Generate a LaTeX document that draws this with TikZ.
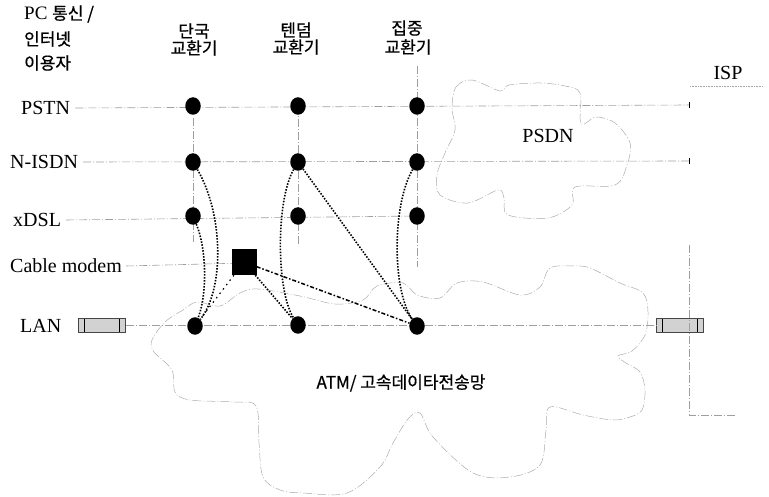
\documentclass[tikz,border=0pt]{standalone}
\usepackage{fontspec}
\setmainfont{Liberation Serif}
\newfontfamily\kr[FakeBold=0.7]{Noto Sans CJK KR}
\usetikzlibrary{shapes.geometric}
\begin{document}
\begin{tikzpicture}[x=1pt,y=-1pt,
  dotnode/.style={ellipse,fill=black,inner sep=0,minimum width=15.5pt,minimum height=17.5pt},
  sqnode/.style={rectangle,fill=black,inner sep=0,minimum width=25pt,minimum height=26pt},
  lbl/.style={font=\fontsize{20}{22}\selectfont,inner sep=0,anchor=west},
  krlbl/.style={font=\kr\fontsize{17}{19}\selectfont,inner sep=0},
  gridline/.style={gray!75,line width=0.6pt,dash pattern=on 8pt off 2pt on 1pt off 2pt},
  cloudline/.style={gray!65,line width=0.5pt,dash pattern=on 9pt off 2pt on 1pt off 2pt},
  conn/.style={black,line width=1.6pt,dash pattern=on 1.5pt off 1.5pt},
  connfaint/.style={black,line width=1.2pt,dash pattern=on 1.5pt off 4pt},
  conndd/.style={black,line width=1.5pt,dash pattern=on 4pt off 2pt on 1.5pt off 2pt},
  lanbox/.style={draw=gray!55!black,fill=gray!35,minimum width=47pt,minimum height=14pt,inner sep=0,line width=0.6pt,
    path picture={\draw[black,line width=0.6pt] ([xshift=6pt]path picture bounding box.south west) -- ([xshift=6pt]path picture bounding box.north west);
                  \draw[black,line width=0.6pt] ([xshift=-6pt]path picture bounding box.south east) -- ([xshift=-6pt]path picture bounding box.north east);}}
]
\useasboundingbox (0,0) rectangle (769,497);

% ---------- clouds ----------
\draw[cloudline] plot[smooth cycle, tension=0.55] coordinates {
  (452,108) (456,87) (472,80) (500,91) (509,85) (540,83) (565,86) (580,93) (581,124)
  (596,117) (615,123) (630,143) (627,165) (615,185) (575,187) (572,205) (548,218)
  (508,215) (504,198) (498,190) (468,203) (440,195) (437,175) (445,153) (455,130)};

\draw[cloudline] plot[smooth cycle, tension=0.55] coordinates {
  (152,340) (165,322) (183,310) (197,302) (220,306) (240,293) (258,289) (300,296) (335,304)
  (363,300) (377,286) (403,283) (417,295) (440,298) (457,283) (483,282) (520,295) (540,287)
  (550,268) (573,266) (590,268) (620,283) (643,293) (648,312) (645,335) (632,351) (618,356)
  (626,363) (640,372) (645,390) (642,410) (630,417) (613,420) (583,415) (550,407) (546,430)
  (540,465) (510,477) (473,473) (433,437) (420,413) (408,419) (393,443) (380,467) (347,493)
  (303,493) (280,490) (263,477) (259,443) (256,406) (233,402) (190,400) (175,392) (172,370) (154,352)};

% ---------- labels ----------
\node[anchor=west,inner sep=0] (pc) at (24,14) {\fontsize{19}{21}\selectfont PC\ \kr\fontsize{17}{19}\selectfont 통신 /};
\node[krlbl,anchor=west] (inet) at (24,39) {인터넷};
\node[krlbl,anchor=west] (user) at (24,63) {이용자};

\node[krlbl] (h1a) at (194,31) {단국};
\node[krlbl] (h1b) at (194,48) {교환기};
\node[krlbl] (h2a) at (296,30) {텐덤};
\node[krlbl] (h2b) at (296,47) {교환기};
\node[krlbl] (h3a) at (407,28) {집중};
\node[krlbl] (h3b) at (408,47) {교환기};

\node[lbl] (pstn) at (21,108) {PSTN};
\node[lbl] (isdn) at (10,162) {N-ISDN};
\node[lbl] (xdsl) at (13,220) {xDSL};
\node[lbl] (cable) at (10,266) {Cable modem};
\node[lbl] (lan) at (20,326) {LAN};

\node[font=\fontsize{20}{22}\selectfont,inner sep=0] (psdn) at (548,136) {PSDN};
\node[font=\fontsize{20}{22}\selectfont,inner sep=0] (isp) at (728,73) {ISP};
\node[krlbl] (atm) at (401,383) {ATM/ 고속데이타전송망};

% ---------- boxes ----------
\node[lanbox] (lanL) at (102,325) {};
\node[lanbox] (lanR) at (680,325) {};

% ---------- coordinates ----------
\coordinate (e1) at (689,105);
\coordinate (e2) at (689,161);
\coordinate (v1t) at (193,118);
\coordinate (v1b) at (193,242);
\coordinate (v2b) at (298,246);
\coordinate (v3t) at (417,66);
\coordinate (v3b) at (417,267);
\coordinate (r1) at (689,245);
\coordinate (r2) at (689,415);
\coordinate (r3) at (736,415);
\coordinate (i1) at (690,86);
\coordinate (i2) at (763,86);

% ---------- grid lines ----------
\draw[gridline] ([xshift=5pt]pstn.east) -- (e1);
\draw[gridline] ([xshift=5pt]isdn.east) -- (e2);
\draw[gridline] ([xshift=5pt]xdsl.east) -- (417,216);
\draw[gridline] ([xshift=4pt]cable.east) -- (244,263);
\draw[gridline] (lanL.east) -- (lanR.west);
\draw[gridline] (v1t) -- (v1b);
\draw[gridline] (298,106) -- (v2b);
\draw[gridline] (v3t) -- (v3b);
\draw[gridline] (r1) -- (r2) -- (r3);
\draw[gray!70,line width=0.6pt,densely dotted] (i1) -- (i2);
\draw[black,line width=0.6pt] (689,102) -- (689,108) (689,158) -- (689,164);

% ---------- switch nodes ----------
\node[dotnode] (a1) at (193,106) {};
\node[dotnode] (a2) at (193,162) {};
\node[dotnode] (a3) at (193,216) {};
\node[dotnode] (a4) at (195,326) {};
\node[dotnode] (b1) at (298,106) {};
\node[dotnode] (b2) at (298,162) {};
\node[dotnode] (b3) at (298,216) {};
\node[dotnode] (b4) at (298,325) {};
\node[dotnode] (c1) at (417,106) {};
\node[dotnode] (c2) at (417,162) {};
\node[dotnode] (c3) at (417,216) {};
\node[dotnode] (c4) at (417,326) {};
\node[sqnode] (cm) at (244,262) {};

% ---------- connectors ----------
\draw[conn] (a2) .. controls (224,215) and (224,290) .. (a4);
\draw[conn] (a3) .. controls (207,250) and (207,295) .. (a4);
\draw[conn] (b2) .. controls (276,200) and (276,290) .. (b4);
\draw[conn] (c2) .. controls (392,205) and (392,290) .. (c4);
\draw[conn] (b2) -- (c4);
\draw[conn] (cm) -- (b4);
\draw[conndd] (cm) -- (c4);
\draw[connfaint] (cm) -- (a4);
\end{tikzpicture}
\end{document}
